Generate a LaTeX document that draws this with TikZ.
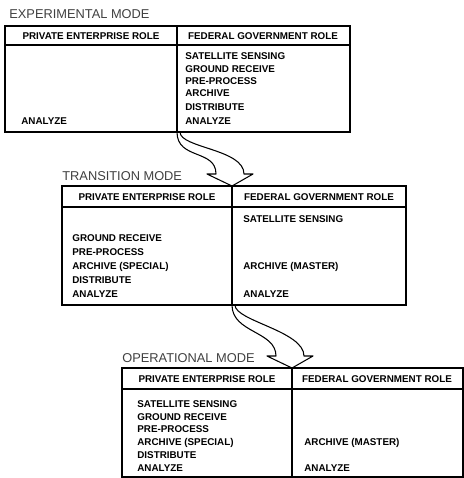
\documentclass[tikz,border=0pt]{standalone}
\usepackage{fontspec}
\setmainfont{Liberation Sans}
\usetikzlibrary{calc}

\tikzset{
  role/.style={font=\bfseries\fontsize{5.6}{6}\selectfont, inner sep=0pt, text height=4pt, text depth=0pt},
  item/.style={role, anchor=west},
  mode/.style={font=\fontsize{7.3}{8}\selectfont, text=black!75, anchor=west, inner sep=0pt},
  box/.style={line width=0.7pt},
  bendarrow/.style={line width=0.6pt, fill=white, line join=round},
}
% curved hollow arrow from a divider foot (#1) to the next divider head (#2)
\newcommand{\modearrow}[2]{%
  \draw[bendarrow] (#1) .. controls ($(#1)+(0,28)$) and ($(#2)+(-16,-37)$) .. ($(#2)+(-16,-12)$)
        -- ($(#2)+(-25,-12)$) -- (#2) -- ($(#2)+(21,-12)$) -- ($(#2)+(12,-12)$)
        .. controls ($(#2)+(12,-37)$) and ($(#1)+(3,16)$) .. ($(#1)+(3,0)$);}

\begin{document}
\begin{tikzpicture}[x=0.02cm, y=-0.02cm]
      \useasboundingbox (0,0) rectangle (464,478);
      \coordinate (exp-foot) at (177,132);
      \coordinate (trn-head) at (232,186);
      \coordinate (trn-foot) at (232,305);
      \coordinate (opr-head) at (292,368);
      \modearrow{exp-foot}{trn-head}
      \modearrow{trn-foot}{opr-head}

      % experimental mode
      \node (exp) [mode] at (9,14) {EXPERIMENTAL MODE};
      \draw[box] (5,26) rectangle (350,132)
                 (5,45) -- (350,45)
                 (177,26) -- (exp-foot);
      \node (exp-pe) [role] at (91,35.5) {PRIVATE ENTERPRISE ROLE};
      \node (exp-fg) [role] at (263,35.5) {FEDERAL GOVERNMENT ROLE};
      \node (exp-pe6) [item] at (21,121) {ANALYZE};
      \node (exp-fg1) [item] at (185,56) {SATELLITE SENSING};
      \node (exp-fg2) [item] at (185,68.5) {GROUND RECEIVE};
      \node (exp-fg3) [item] at (185,81) {PRE-PROCESS};
      \node (exp-fg4) [item] at (185,93) {ARCHIVE};
      \node (exp-fg5) [item] at (185,107) {DISTRIBUTE};
      \node (exp-fg6) [item] at (185,121) {ANALYZE};

      % transition mode
      \node (trn) [mode] at (62,176) {TRANSITION MODE};
      \draw[box] (62,186) rectangle (406,305)
                 (62,207) -- (406,207)
                 (trn-head) -- (trn-foot);
      \node (trn-pe) [role] at (147,197) {PRIVATE ENTERPRISE ROLE};
      \node (trn-fg) [role] at (319,197) {FEDERAL GOVERNMENT ROLE};
      \node (trn-pe2) [item] at (72,238) {GROUND RECEIVE};
      \node (trn-pe3) [item] at (72,252) {PRE-PROCESS};
      \node (trn-pe4) [item] at (72,266) {ARCHIVE (SPECIAL)};
      \node (trn-pe5) [item] at (72,280) {DISTRIBUTE};
      \node (trn-pe6) [item] at (72,294) {ANALYZE};
      \node (trn-fg1) [item] at (243,219) {SATELLITE SENSING};
      \node (trn-fg4) [item] at (243,266) {ARCHIVE (MASTER)};
      \node (trn-fg6) [item] at (243,294) {ANALYZE};

      % operational mode
      \node (opr) [mode] at (122,358) {OPERATIONAL MODE};
      \draw[box] (122,368) rectangle (463,477)
                 (122,389) -- (463,389)
                 (opr-head) -- (292,477);
      \node (opr-pe) [role] at (207,379) {PRIVATE ENTERPRISE ROLE};
      \node (opr-fg) [role] at (377,379) {FEDERAL GOVERNMENT ROLE};
      \node (opr-pe1) [item] at (137,404) {SATELLITE SENSING};
      \node (opr-pe2) [item] at (137,417) {GROUND RECEIVE};
      \node (opr-pe3) [item] at (137,429) {PRE-PROCESS};
      \node (opr-pe4) [item] at (137,442) {ARCHIVE (SPECIAL)};
      \node (opr-pe5) [item] at (137,455) {DISTRIBUTE};
      \node (opr-pe6) [item] at (137,468) {ANALYZE};
      \node (opr-fg4) [item] at (304,442) {ARCHIVE (MASTER)};
      \node (opr-fg6) [item] at (304,468) {ANALYZE};
\end{tikzpicture}
\end{document}
